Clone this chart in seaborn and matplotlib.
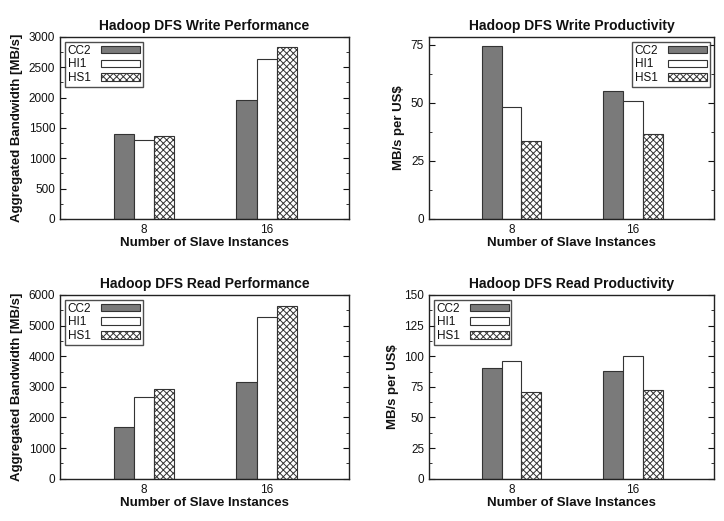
import pandas as pd
import matplotlib
matplotlib.use('Agg')
import matplotlib.pyplot as plt
import seaborn as sns
from matplotlib.patches import Patch
from matplotlib.ticker import MultipleLocator

instances = ['8', '16']
types = ['CC2', 'HI1', 'HS1']

# values
write_perf = {'CC2': [1400, 1960], 'HI1': [1300, 2630], 'HS1': [1370, 2830]}
write_prod = {'CC2': [74.5, 55], 'HI1': [48, 51], 'HS1': [33.5, 36.5]}
read_perf = {'CC2': [1700, 3150], 'HI1': [2680, 5280], 'HS1': [2930, 5630]}
read_prod = {'CC2': [90, 88], 'HI1': [96, 100.5], 'HS1': [70.5, 72.5]}

sns.set_style('ticks')
plt.rcParams['font.family'] = ['Liberation Sans', 'DejaVu Sans']
plt.rcParams['hatch.linewidth'] = 0.7
for k in ['text.color', 'axes.labelcolor', 'xtick.color', 'ytick.color']:
    plt.rcParams[k] = '#111111'

faces = {'CC2': '#7a7a7a', 'HI1': 'white', 'HS1': 'white'}
hatches = {'CC2': '', 'HI1': '', 'HS1': 'xxxxx'}


def to_frame(d):
    rows = []
    for t in types:
        for i, v in zip(instances, d[t]):
            rows.append({'Instances': i, 'Type': t, 'value': v})
    return pd.DataFrame(rows)


fig = plt.figure(figsize=(7.24, 5.21), dpi=100)
renderer = fig.canvas.get_renderer()
panels = [
    ([0.083, 0.580, 0.399, 0.349], write_perf, 'Hadoop DFS Write Performance',
     'Aggregated Bandwidth [MB/s]', (0, 3000), 500, 'upper left'),
    ([0.5925, 0.580, 0.394, 0.349], write_prod, 'Hadoop DFS Write Productivity',
     'MB/s per US$', (0, 78.4), 25, 'upper right'),
    ([0.083, 0.081, 0.399, 0.353], read_perf, 'Hadoop DFS Read Performance',
     'Aggregated Bandwidth [MB/s]', (0, 6000), 1000, 'upper left'),
    ([0.5925, 0.081, 0.394, 0.353], read_prod, 'Hadoop DFS Read Productivity',
     'MB/s per US$', (0, 150), 25, 'upper left'),
]

for rect, d, title, ylabel, ylim, step, loc in panels:
    ax = fig.add_axes(rect)
    df = to_frame(d)
    sns.barplot(data=df, x='Instances', y='value', hue='Type', order=instances,
                hue_order=types, palette=[faces[t] for t in types], width=0.49,
                edgecolor='black', linewidth=0.8, saturation=1, legend=False, ax=ax)
    for cont, t in zip(ax.containers, types):
        for bar in cont:
            bar.set_facecolor(faces[t])
            bar.set_hatch(hatches[t])
            bar.set_edgecolor('#333333')
    ax.set_xlim(-0.68, 1.67)
    ax.set_ylim(*ylim)
    ax.yaxis.set_major_locator(MultipleLocator(step))
    ax.yaxis.set_minor_locator(MultipleLocator(step / 2))
    ax.tick_params(axis='y', which='both', direction='in', right=True, labelsize=8.5, length=4)
    ax.tick_params(axis='y', which='minor', length=2)
    ax.tick_params(axis='x', direction='in', labelsize=8.5, length=3)
    for s in ax.spines.values():
        s.set_linewidth(1.0)
        s.set_color('#222222')
    ax.set_title(title, fontsize=10, fontweight='bold', pad=5)
    ax.set_xlabel('Number of Slave Instances', fontsize=9.5, fontweight='bold', labelpad=1)
    ax.set_ylabel(ylabel, fontsize=9.5, fontweight='bold', labelpad=4)
    handles = [Patch(facecolor=faces[t], edgecolor='#333333', hatch=hatches[t], linewidth=0.8)
               for t in types]
    fs = 8.5
    leg = ax.legend(handles, types, loc=loc, markerfirst=False, fancybox=False,
                    frameon=True, edgecolor='#222222', fontsize=fs, handlelength=3.3,
                    handleheight=0.6, labelspacing=0.15, borderpad=0.25,
                    handletextpad=0.8, borderaxespad=0.4)
    leg.get_frame().set_linewidth(1.0)
    # left-align the labels while keeping the samples on the right (gnuplot style)
    widths = [t.get_window_extent(renderer).width for t in leg.get_texts()]
    items = leg._legend_handle_box.get_children()[0].get_children()
    for item, w in zip(items, widths):
        item.sep = 0.8 * fs + (max(widths) - w) * 72.0 / fig.dpi

fig.savefig('out.png', dpi=100)
